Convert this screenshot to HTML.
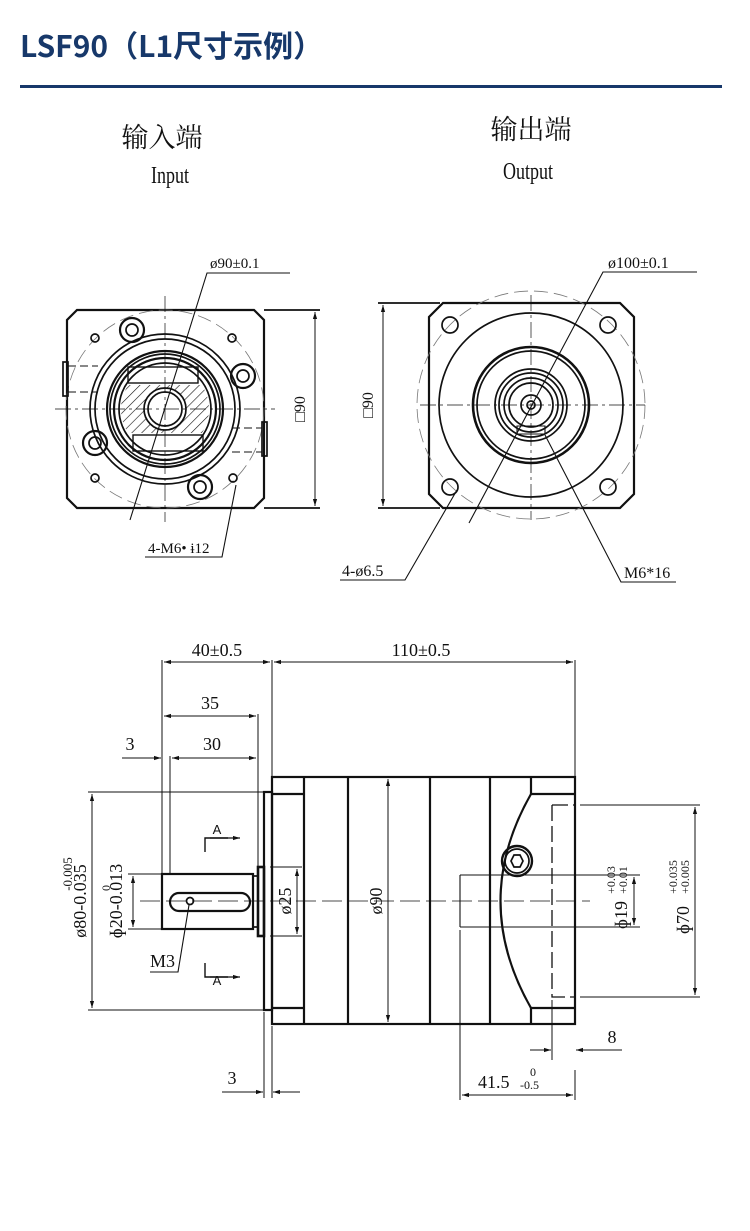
<!DOCTYPE html>
<html><head><meta charset="utf-8"><style>
html,body{margin:0;padding:0;background:#fff;width:750px;height:1231px;overflow:hidden}
svg{display:block}
text{font-family:"Liberation Serif","Noto Serif CJK SC",serif;fill:#111}
</style></head><body>
<svg width="750" height="1231" viewBox="0 0 750 1231" xmlns="http://www.w3.org/2000/svg">
<defs>
<pattern id="h" width="7" height="7" patternUnits="userSpaceOnUse" patternTransform="rotate(45)"><line x1="0" y1="0" x2="0" y2="7" stroke="#111" stroke-width="1.2"/></pattern>
<clipPath id="cp"><circle cx="165" cy="409" r="44"/></clipPath>
<marker id="a" viewBox="0 0 10 10" refX="10" refY="5" markerWidth="9" markerHeight="7" orient="auto-start-reverse" markerUnits="userSpaceOnUse"><path d="M0,2 L10,5 L0,8z" fill="#111"/></marker>
</defs>
<text x="20" y="57" style="font-family:'Noto Sans CJK SC','Liberation Sans',sans-serif;font-weight:bold;font-size:30px;fill:#17386a">LSF90（L1尺寸示例）</text>
<rect x="20" y="85" width="702" height="3" fill="#17386a"/>
<text x="162" y="147" font-size="27" text-anchor="middle" style="font-family:'Noto Serif CJK SC',serif">输入端</text>
<text x="170" y="183" font-size="24" text-anchor="middle" transform="translate(170 0) scale(0.75 1) translate(-170 0)">Input</text>
<text x="531" y="139" font-size="27" text-anchor="middle" style="font-family:'Noto Serif CJK SC',serif">输出端</text>
<text x="528" y="179" font-size="24" text-anchor="middle" transform="translate(528 0) scale(0.75 1) translate(-528 0)">Output</text>

<g stroke="#111" fill="none" stroke-width="1.7">
<!-- LEFT VIEW -->
<path d="M77,310 H254 L264,320 V498 L254,508 H77 L67,498 V320 Z" stroke-width="2.2"/>
<circle cx="165" cy="409" r="99" stroke-dasharray="14 6" stroke-width="0.8" stroke="#777"/>
<circle cx="165" cy="409" r="75"/><circle cx="165" cy="409" r="70"/>
<circle cx="165" cy="409" r="58" stroke-width="2.2"/><circle cx="165" cy="409" r="55"/><circle cx="165" cy="409" r="51" stroke-width="2.2"/><circle cx="165" cy="409" r="46"/>
<rect x="115" y="385" width="100" height="48" fill="url(#h)" clip-path="url(#cp)" stroke="none"/>
<rect x="128" y="367" width="70" height="16" stroke-width="1.4"/><rect x="133" y="435" width="70" height="16" stroke-width="1.4"/>
<circle cx="165" cy="409" r="21" fill="#fff"/><circle cx="165" cy="409" r="17"/>
<circle cx="132" cy="330" r="12" stroke-width="2.2"/><circle cx="132" cy="330" r="6"/>
<circle cx="243" cy="376" r="12" stroke-width="2.2"/><circle cx="243" cy="376" r="6"/>
<circle cx="95" cy="443" r="12" stroke-width="2.2"/><circle cx="95" cy="443" r="6"/>
<circle cx="200" cy="487" r="12" stroke-width="2.2"/><circle cx="200" cy="487" r="6"/>
<circle cx="95" cy="338" r="4"/><circle cx="232" cy="338" r="4"/><circle cx="95" cy="478" r="4"/><circle cx="233" cy="478" r="4"/>
<rect x="63" y="362" width="5" height="34"/><rect x="262" y="422" width="5" height="34"/>
<path d="M68,366 H98 M68,392 H98 M232,428 H262 M232,452 H262" stroke-dasharray="8 4" stroke-width="1"/>
<path d="M165,296 V522 M55,409 H275" stroke-width="0.7" stroke-dasharray="16 4 3 4"/>
<path d="M264,310 H320 M264,508 H320"/>
<line x1="315" y1="312" x2="315" y2="506" marker-start="url(#a)" marker-end="url(#a)" stroke-width="1"/>
<path d="M290,273 H207 L130,520" stroke-width="1.1"/>
<path d="M145,557 H222 L236,485" stroke-width="1.1"/>
<!-- RIGHT VIEW -->
<path d="M443,303 H620 L634,317 V494 L620,508 H443 L429,494 V317 Z" stroke-width="2.2"/>
<circle cx="531" cy="405" r="114" stroke-dasharray="14 6" stroke-width="0.8" stroke="#777"/>
<circle cx="531" cy="405" r="92"/>
<circle cx="531" cy="405" r="58" stroke-width="2.6"/><circle cx="531" cy="405" r="54"/>
<circle cx="531" cy="405" r="36"/><circle cx="531" cy="405" r="32"/><circle cx="531" cy="405" r="27"/><circle cx="531" cy="405" r="22"/>
<circle cx="531" cy="405" r="10"/><circle cx="531" cy="405" r="4"/>
<path d="M517,434 H545 V426 H517 Z" stroke-width="1.1"/>
<circle cx="450" cy="325" r="8"/><circle cx="608" cy="325" r="8"/><circle cx="450" cy="487" r="8"/><circle cx="608" cy="487" r="8"/>
<path d="M531,295 V520 M420,405 H645" stroke-width="0.7" stroke-dasharray="16 4 3 4"/>
<path d="M378,303 H440 M378,508 H440"/>
<line x1="383" y1="305" x2="383" y2="506" marker-start="url(#a)" marker-end="url(#a)" stroke-width="1"/>
<path d="M697,272 H603 L469,523" stroke-width="1.1"/>
<path d="M340,580 H405 L457,490" stroke-width="1.1"/>
<path d="M676,582 H621 L545,435" stroke-width="1.1"/>
<!-- SIDE VIEW -->
<rect x="272" y="777" width="303" height="247" stroke-width="2.2"/>
<path d="M304,777 V1024 M348,777 V1024 M430,777 V1024 M490,777 V1024" stroke-width="2.2"/>
<path d="M272,794 H304 M272,1008 H304 M531,777 V794 H575 M531,1024 V1008 H575" stroke-width="2.2"/>
<path d="M531,794 Q470,901 531,1008" stroke-width="2.2"/>
<rect x="264" y="792" width="8" height="218" stroke-width="2.2"/>
<rect x="258" y="867" width="6" height="69" stroke-width="2.6"/>
<rect x="162" y="874" width="91" height="55" stroke-width="2.2"/><rect x="253" y="876" width="5" height="51"/>
<rect x="170" y="893" width="80" height="18" rx="9" stroke-width="2.2"/>
<circle cx="190" cy="901" r="3.5"/>
<circle cx="517" cy="861" r="15" stroke-width="2.4"/><circle cx="517" cy="861" r="12"/>
<path d="M511,861 L514,855 H520 L523,861 L520,867 H514 Z"/>
<path d="M552,805 V997 H574 M552,805 H574" stroke-dasharray="16 5" stroke-width="1.3"/>
<path d="M460,875 H640 M460,927 H640 M460,875 V927" stroke-width="1.1"/>
<path d="M140,901 H590" stroke-width="0.7" stroke-dasharray="20 6"/>
<!-- dims -->
<path d="M162,660 V874 M272,660 V778 M575,660 V778 M258,714 V867 M170,756 V874" stroke-width="1"/>
<line x1="164" y1="662" x2="270" y2="662" marker-start="url(#a)" marker-end="url(#a)" stroke-width="1"/>
<line x1="274" y1="662" x2="573" y2="662" marker-start="url(#a)" marker-end="url(#a)" stroke-width="1"/>
<line x1="164" y1="716" x2="256" y2="716" marker-start="url(#a)" marker-end="url(#a)" stroke-width="1"/>
<line x1="172" y1="758" x2="256" y2="758" marker-start="url(#a)" marker-end="url(#a)" stroke-width="1"/>
<line x1="122" y1="758" x2="161" y2="758" marker-end="url(#a)" stroke-width="1"/>
<path d="M88,792 H264 M88,1010 H264 M128,874 H162 M128,929 H162 M270,867 H302 M270,936 H302 M580,805 H700 M580,997 H700 M575,1070 V1100 M552,1000 V1060 M460,930 V1100" stroke-width="1"/>
<line x1="92" y1="794" x2="92" y2="1008" marker-start="url(#a)" marker-end="url(#a)" stroke-width="1"/>
<line x1="133" y1="876" x2="133" y2="927" marker-start="url(#a)" marker-end="url(#a)" stroke-width="1"/>
<line x1="297" y1="869" x2="297" y2="934" marker-start="url(#a)" marker-end="url(#a)" stroke-width="1"/>
<line x1="388" y1="779" x2="388" y2="1022" marker-start="url(#a)" marker-end="url(#a)" stroke-width="1"/>
<line x1="634" y1="877" x2="634" y2="925" marker-start="url(#a)" marker-end="url(#a)" stroke-width="1"/>
<line x1="695" y1="807" x2="695" y2="995" marker-start="url(#a)" marker-end="url(#a)" stroke-width="1"/>
<line x1="530" y1="1050" x2="551" y2="1050" marker-end="url(#a)" stroke-width="1"/>
<line x1="622" y1="1050" x2="576" y2="1050" marker-end="url(#a)" stroke-width="1"/>
<line x1="462" y1="1095" x2="573" y2="1095" marker-start="url(#a)" marker-end="url(#a)" stroke-width="1"/>
<path d="M264,1012 V1098 M272,1026 V1098" stroke-width="1"/>
<line x1="222" y1="1092" x2="263" y2="1092" marker-end="url(#a)" stroke-width="1"/>
<line x1="300" y1="1092" x2="273" y2="1092" marker-end="url(#a)" stroke-width="1"/>
<path d="M205,852 V838 H228 M205,963 V977 H228" stroke-width="1.4"/>
<line x1="210" y1="838" x2="240" y2="838" marker-end="url(#a)" stroke-width="1.2"/>
<line x1="210" y1="977" x2="240" y2="977" marker-end="url(#a)" stroke-width="1.2"/>
<path d="M150,972 H178 L189,905" stroke-width="1.1"/>
</g>
<g font-size="18">
<text x="210" y="268" font-size="15">ø90±0.1</text>
<text x="148" y="553" font-size="15">4-M6• ɨ12</text>
<text x="305" y="409" transform="rotate(-90 305 409)" text-anchor="middle" font-size="16">□90</text>
<text x="608" y="268" font-size="16">ø100±0.1</text>
<text x="373" y="405" transform="rotate(-90 373 405)" text-anchor="middle" font-size="16">□90</text>
<text x="342" y="576" font-size="16">4-ø6.5</text>
<text x="624" y="578" font-size="16">M6*16</text>
<text x="217" y="656" text-anchor="middle">40±0.5</text>
<text x="421" y="656" text-anchor="middle">110±0.5</text>
<text x="210" y="709" text-anchor="middle">35</text>
<text x="212" y="750" text-anchor="middle">30</text>
<text x="130" y="750" text-anchor="middle">3</text>
<text x="217" y="834" font-size="13" text-anchor="middle" style="font-family:'Liberation Sans',sans-serif">A</text>
<text x="217" y="985" font-size="13" text-anchor="middle" style="font-family:'Liberation Sans',sans-serif">A</text>
<text x="150" y="967">M3</text>
<text x="86" y="901" transform="rotate(-90 86 901)" text-anchor="middle">ø80-0.035</text>
<text x="72" y="874" transform="rotate(-90 72 874)" text-anchor="middle" font-size="13">-0.005</text>
<text x="122" y="901" transform="rotate(-90 122 901)" text-anchor="middle">ɸ20-0.013</text>
<text x="110" y="888" transform="rotate(-90 110 888)" text-anchor="middle" font-size="12">0</text>
<text x="291" y="901" transform="rotate(-90 291 901)" text-anchor="middle">ø25</text>
<text x="382" y="901" transform="rotate(-90 382 901)" text-anchor="middle">ø90</text>
<text x="627" y="915" transform="rotate(-90 627 915)" text-anchor="middle">ɸ19</text>
<text x="627" y="880" transform="rotate(-90 627 880)" text-anchor="middle" font-size="12">+0.01</text>
<text x="615" y="880" transform="rotate(-90 615 880)" text-anchor="middle" font-size="12">+0.03</text>
<text x="689" y="920" transform="rotate(-90 689 920)" text-anchor="middle">ɸ70</text>
<text x="689" y="877" transform="rotate(-90 689 877)" text-anchor="middle" font-size="12">+0.005</text>
<text x="677" y="877" transform="rotate(-90 677 877)" text-anchor="middle" font-size="12">+0.035</text>
<text x="612" y="1043" text-anchor="middle">8</text>
<text x="478" y="1088">41.5</text><text x="520" y="1089" font-size="12">-0.5</text><text x="530" y="1076" font-size="12">0</text>
<text x="232" y="1084" text-anchor="middle">3</text>
</g>
</svg>
</body></html>
